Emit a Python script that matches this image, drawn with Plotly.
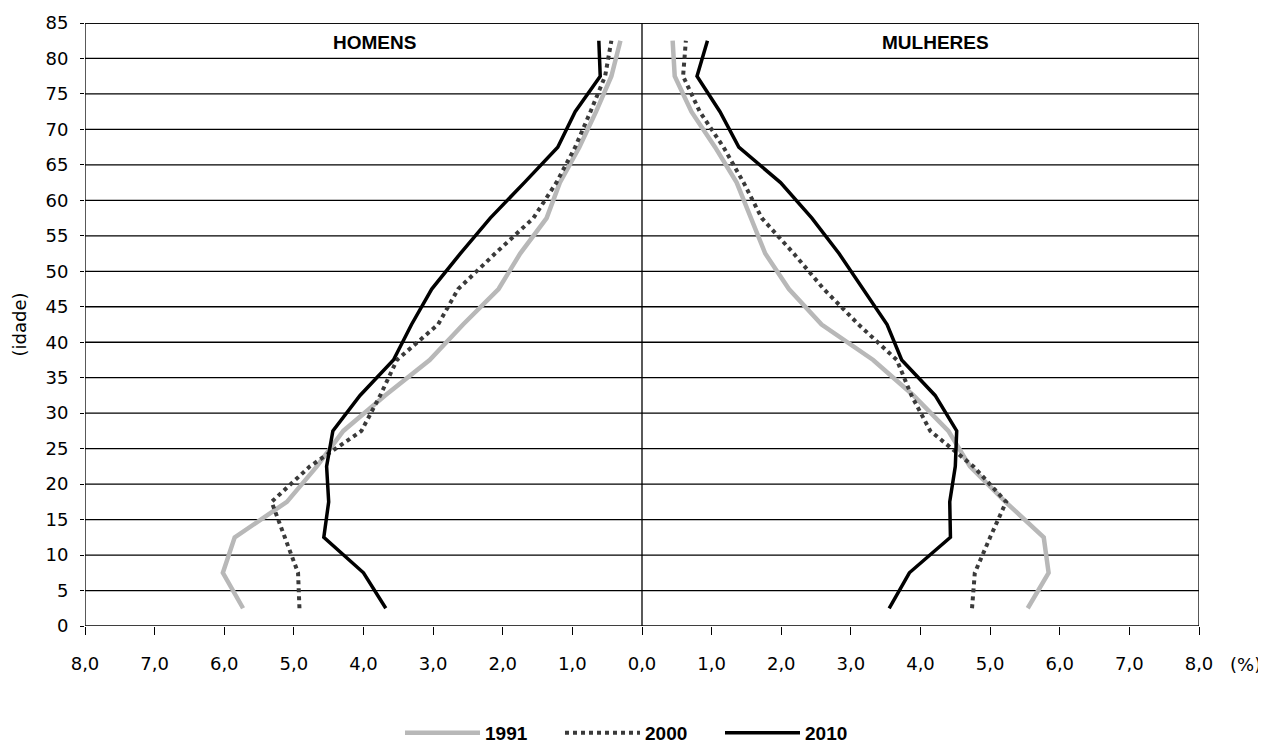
import plotly.graph_objects as go

idade = [2.5, 7.5, 12.5, 17.5, 22.5, 27.5, 32.5, 37.5, 42.5, 47.5, 52.5, 57.5, 62.5, 67.5, 72.5, 77.5, 82.5]

homens_1991 = [5.73, 6.02, 5.85, 5.10, 4.67, 4.29, 3.69, 3.05, 2.57, 2.06, 1.75, 1.37, 1.18, 0.90, 0.66, 0.44, 0.31]
homens_2000 = [4.92, 4.94, 5.13, 5.32, 4.77, 4.03, 3.76, 3.52, 2.93, 2.64, 2.11, 1.56, 1.23, 0.96, 0.74, 0.53, 0.44]
homens_2010 = [3.68, 4.00, 4.57, 4.50, 4.53, 4.44, 4.05, 3.57, 3.31, 3.02, 2.61, 2.18, 1.69, 1.21, 0.96, 0.60, 0.62]

mulheres_1991 = [5.54, 5.84, 5.77, 5.22, 4.71, 4.40, 3.90, 3.32, 2.58, 2.11, 1.77, 1.56, 1.36, 1.05, 0.71, 0.47, 0.44]
mulheres_2000 = [4.74, 4.78, 5.00, 5.23, 4.76, 4.14, 3.87, 3.66, 3.11, 2.61, 2.18, 1.72, 1.46, 1.17, 0.83, 0.59, 0.63]
mulheres_2010 = [3.55, 3.84, 4.43, 4.42, 4.50, 4.52, 4.21, 3.73, 3.52, 3.18, 2.83, 2.44, 1.99, 1.39, 1.12, 0.79, 0.94]

x_ticks = list(range(-8, 9))
x_tick_labels = [f"{abs(v)},0" for v in x_ticks]
y_ticks = list(range(0, 90, 5))

TICKFONT = "DejaVu Sans, Liberation Sans, sans-serif"
TITLEFONT = "Liberation Sans, Arial, sans-serif"

styles = {
    "1991": dict(color="#b8b8b8", width=4.5, dash="solid"),
    "2000": dict(color="#3a3a3a", width=4, dash="dot"),
    "2010": dict(color="#000000", width=3.5, dash="solid"),
}

series = [
    ("1991", homens_1991, mulheres_1991),
    ("2000", homens_2000, mulheres_2000),
    ("2010", homens_2010, mulheres_2010),
]

fig = go.Figure()
for name, h, m in series:
    fig.add_trace(go.Scatter(
        x=[-v for v in h], y=idade, mode="lines", name=f"<b>{name}</b>",
        legendgroup=name, showlegend=True, line=styles[name],
    ))
    fig.add_trace(go.Scatter(
        x=m, y=idade, mode="lines", name=f"<b>{name}</b>",
        legendgroup=name, showlegend=False, line=styles[name],
    ))

shapes = []
for yv in y_ticks[1:]:
    shapes.append(dict(type="line", xref="x", yref="y", x0=-8, x1=8, y0=yv, y1=yv,
                       line=dict(color="#000000", width=1.3), layer="below"))
shapes.append(dict(type="line", xref="x", yref="y", x0=0, x1=0, y0=0, y1=85,
                   line=dict(color="#000000", width=1.3), layer="below"))
shapes.append(dict(type="rect", xref="x", yref="y", x0=-8, x1=8, y0=0, y1=85,
                   line=dict(color="#000000", width=1.3), layer="below"))

# page has 8px body margin: plot area at page x 85..1199, y 23..626
L, R, T, B = 77, 75, 15, 124
plot_h = 742 - T - B
plot_w = 1266 - L - R

fig.update_layout(
    width=1266, height=742,
    margin=dict(l=L, r=R, t=T, b=B, autoexpand=False),
    paper_bgcolor="white", plot_bgcolor="white",
    font=dict(family=TICKFONT, size=18, color="#000000"),
    shapes=shapes,
    showlegend=True,
    legend=dict(orientation="h", x=(640 - 8 - L) / plot_w, xanchor="center",
                y=(742 - B - (733 - 8)) / plot_h, yanchor="middle",
                font=dict(family=TITLEFONT, size=19, color="#000000"),
                tracegroupgap=0, itemclick=False, itemwidth=75,
                entrywidth=70, entrywidthmode="pixels"),
    annotations=[
        dict(text="<b>HOMENS</b>", x=-3.84, y=82.2, xref="x", yref="y", showarrow=False,
             font=dict(family=TITLEFONT, size=19)),
        dict(text="<b>MULHERES</b>", x=4.21, y=82.2, xref="x", yref="y", showarrow=False,
             font=dict(family=TITLEFONT, size=19)),
        dict(text="(%)", xref="paper", yref="paper",
             x=(1245 - 8 - L) / plot_w, y=(742 - B - (664 - 8)) / plot_h,
             xanchor="center", yanchor="middle", showarrow=False,
             font=dict(family=TICKFONT, size=18)),
    ],
)

fig.update_xaxes(
    range=[-8, 8], tickvals=x_ticks, ticktext=x_tick_labels,
    showgrid=False, zeroline=False, showline=False,
    ticks="outside", ticklen=8, tickcolor="#000000", tickwidth=1.2,
    ticklabelstandoff=13, fixedrange=True, automargin=False,
    tickfont=dict(family=TICKFONT, size=18),
)
fig.update_yaxes(
    range=[0, 85], tickvals=y_ticks, showgrid=False, zeroline=False, showline=False,
    ticks="outside", ticklen=4, tickcolor="#000000",
    ticklabelstandoff=8, automargin=False,
    tickfont=dict(family=TICKFONT, size=18),
    title=dict(text="(idade)", font=dict(family=TICKFONT, size=18), standoff=14),
    fixedrange=True,
)

fig.write_html("out.html")
